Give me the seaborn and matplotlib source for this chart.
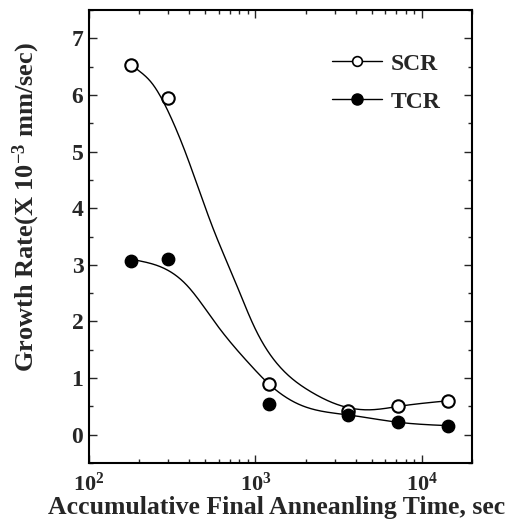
import numpy as np
import pandas as pd
import matplotlib
matplotlib.use("Agg")
import matplotlib.pyplot as plt
from matplotlib.lines import Line2D
from matplotlib.ticker import LogLocator, MultipleLocator, NullFormatter
import seaborn as sns

# ---- data ----
time_s = [180, 300, 1200, 3600, 7200, 14400]
scr_rate = [6.52, 5.95, 0.90, 0.42, 0.50, 0.60]
tcr_rate = [3.07, 3.10, 0.55, 0.35, 0.22, 0.16]

# fitted guide curves
scr_curve_x = [195, 240, 300, 378, 557, 754, 993, 1400, 2120, 3200, 4850, 7200, 14400]
scr_curve_y = [6.45, 6.20, 5.70, 5.00, 3.64, 2.71, 1.88, 1.20, 0.77, 0.52, 0.44, 0.50, 0.60]
tcr_curve_x = [194, 256, 387, 586, 927, 1200, 1846, 3600, 7200, 14400]
tcr_curve_y = [3.08, 2.99, 2.64, 1.94, 1.24, 0.90, 0.53, 0.35, 0.22, 0.16]

series_labels = ["SCR", "TCR"]
x_label = "Accumulative Final Anneanling Time, sec"
y_label = r"Growth Rate(X 10$^{-3}$ mm/sec)"


def natural_spline(xk, yk, xs):
    xk = np.asarray(xk, float); yk = np.asarray(yk, float)
    n = len(xk); h = np.diff(xk)
    A = np.zeros((n, n)); b = np.zeros(n)
    A[0, 0] = 1; A[-1, -1] = 1
    for i in range(1, n - 1):
        A[i, i - 1] = h[i - 1]
        A[i, i] = 2 * (h[i - 1] + h[i])
        A[i, i + 1] = h[i]
        b[i] = 6 * ((yk[i + 1] - yk[i]) / h[i] - (yk[i] - yk[i - 1]) / h[i - 1])
    M = np.linalg.solve(A, b)
    idx = np.clip(np.searchsorted(xk, xs) - 1, 0, n - 2)
    x0 = xk[idx]; x1 = xk[idx + 1]; hh = h[idx]
    return (M[idx] * (x1 - xs) ** 3 / (6 * hh) + M[idx + 1] * (xs - x0) ** 3 / (6 * hh)
            + (yk[idx] / hh - M[idx] * hh / 6) * (x1 - xs)
            + (yk[idx + 1] / hh - M[idx + 1] * hh / 6) * (xs - x0))


def smooth(cx, cy):
    lx = np.log10(cx)
    xs = np.linspace(lx[0], lx[-1], 400)
    return 10 ** xs, natural_spline(lx, cy, xs)


sns.set_style("ticks")
plt.rcParams['font.family'] = ['Liberation Serif', 'DejaVu Serif']
plt.rcParams['mathtext.fontset'] = 'custom'
plt.rcParams['mathtext.rm'] = 'Liberation Serif:bold'
plt.rcParams['mathtext.it'] = 'Liberation Serif:bold'
plt.rcParams['mathtext.bf'] = 'Liberation Serif:bold'

fig = plt.figure(figsize=(5.11, 5.25), dpi=100)
ax = fig.add_axes([0.174, 0.118, 0.750, 0.863])

sx, sy = smooth(scr_curve_x, scr_curve_y)
tx, ty = smooth(tcr_curve_x, tcr_curve_y)
curves = pd.concat([
    pd.DataFrame({"x": sx, "y": sy, "s": "SCR"}),
    pd.DataFrame({"x": tx, "y": ty, "s": "TCR"}),
])
sns.lineplot(data=curves, x="x", y="y", units="s", estimator=None, sort=False,
             color="black", linewidth=1.0, ax=ax, legend=False)

pts = pd.DataFrame({"x": time_s * 2, "y": scr_rate + tcr_rate,
                    "s": ["SCR"] * len(time_s) + ["TCR"] * len(time_s)})
sns.scatterplot(data=pts[pts.s == "SCR"], x="x", y="y", s=80, facecolor="white",
                edgecolor="black", linewidth=1.5, ax=ax, legend=False, zorder=3)
sns.scatterplot(data=pts[pts.s == "TCR"], x="x", y="y", s=80, color="black",
                edgecolor="black", linewidth=1.0, ax=ax, legend=False, zorder=3)

ax.set_xscale("log")
ax.set_xlim(100, 20000)
ax.set_ylim(-0.5, 7.5)
ax.yaxis.set_major_locator(MultipleLocator(1))
ax.yaxis.set_minor_locator(MultipleLocator(0.5))
ax.xaxis.set_major_locator(LogLocator(base=10, numticks=10))
ax.xaxis.set_minor_locator(LogLocator(base=10, subs=np.arange(2, 10), numticks=10))
ax.xaxis.set_minor_formatter(NullFormatter())
ax.tick_params(which="both", direction="in", top=True, right=True, width=1.0)
ax.tick_params(which="major", length=6, labelsize=17)
ax.tick_params(axis="x", which="major", pad=7, labelsize=16)
ax.tick_params(axis="y", which="major", pad=4)
ax.tick_params(which="minor", length=3)
for lab in ax.get_xticklabels() + ax.get_yticklabels():
    lab.set_fontweight("bold")
for sp in ax.spines.values():
    sp.set_linewidth(1.5)
    sp.set_color("black")

ax.set_xlabel(x_label, fontsize=18.5, fontweight="bold")
ax.xaxis.set_label_coords(0.49, -0.073)
ax.xaxis.label.set_va("top")
ax.set_ylabel(y_label, fontsize=19, fontweight="bold")
ax.yaxis.set_label_coords(-0.123, 0.565)

handles = [
    Line2D([], [], color="black", lw=1.0, marker="o", markersize=7,
           markerfacecolor="white", markeredgecolor="black", markeredgewidth=1.2),
    Line2D([], [], color="black", lw=1.0, marker="o", markersize=8,
           markerfacecolor="black", markeredgecolor="black"),
]
leg = ax.legend(handles, series_labels, loc="upper left", frameon=False,
                prop={"family": "Liberation Serif", "weight": "bold", "size": 17},
                handlelength=2.1, handletextpad=0.35, labelspacing=0.7,
                bbox_to_anchor=(0.58, 0.952))

fig.savefig("out.png", dpi=100)
